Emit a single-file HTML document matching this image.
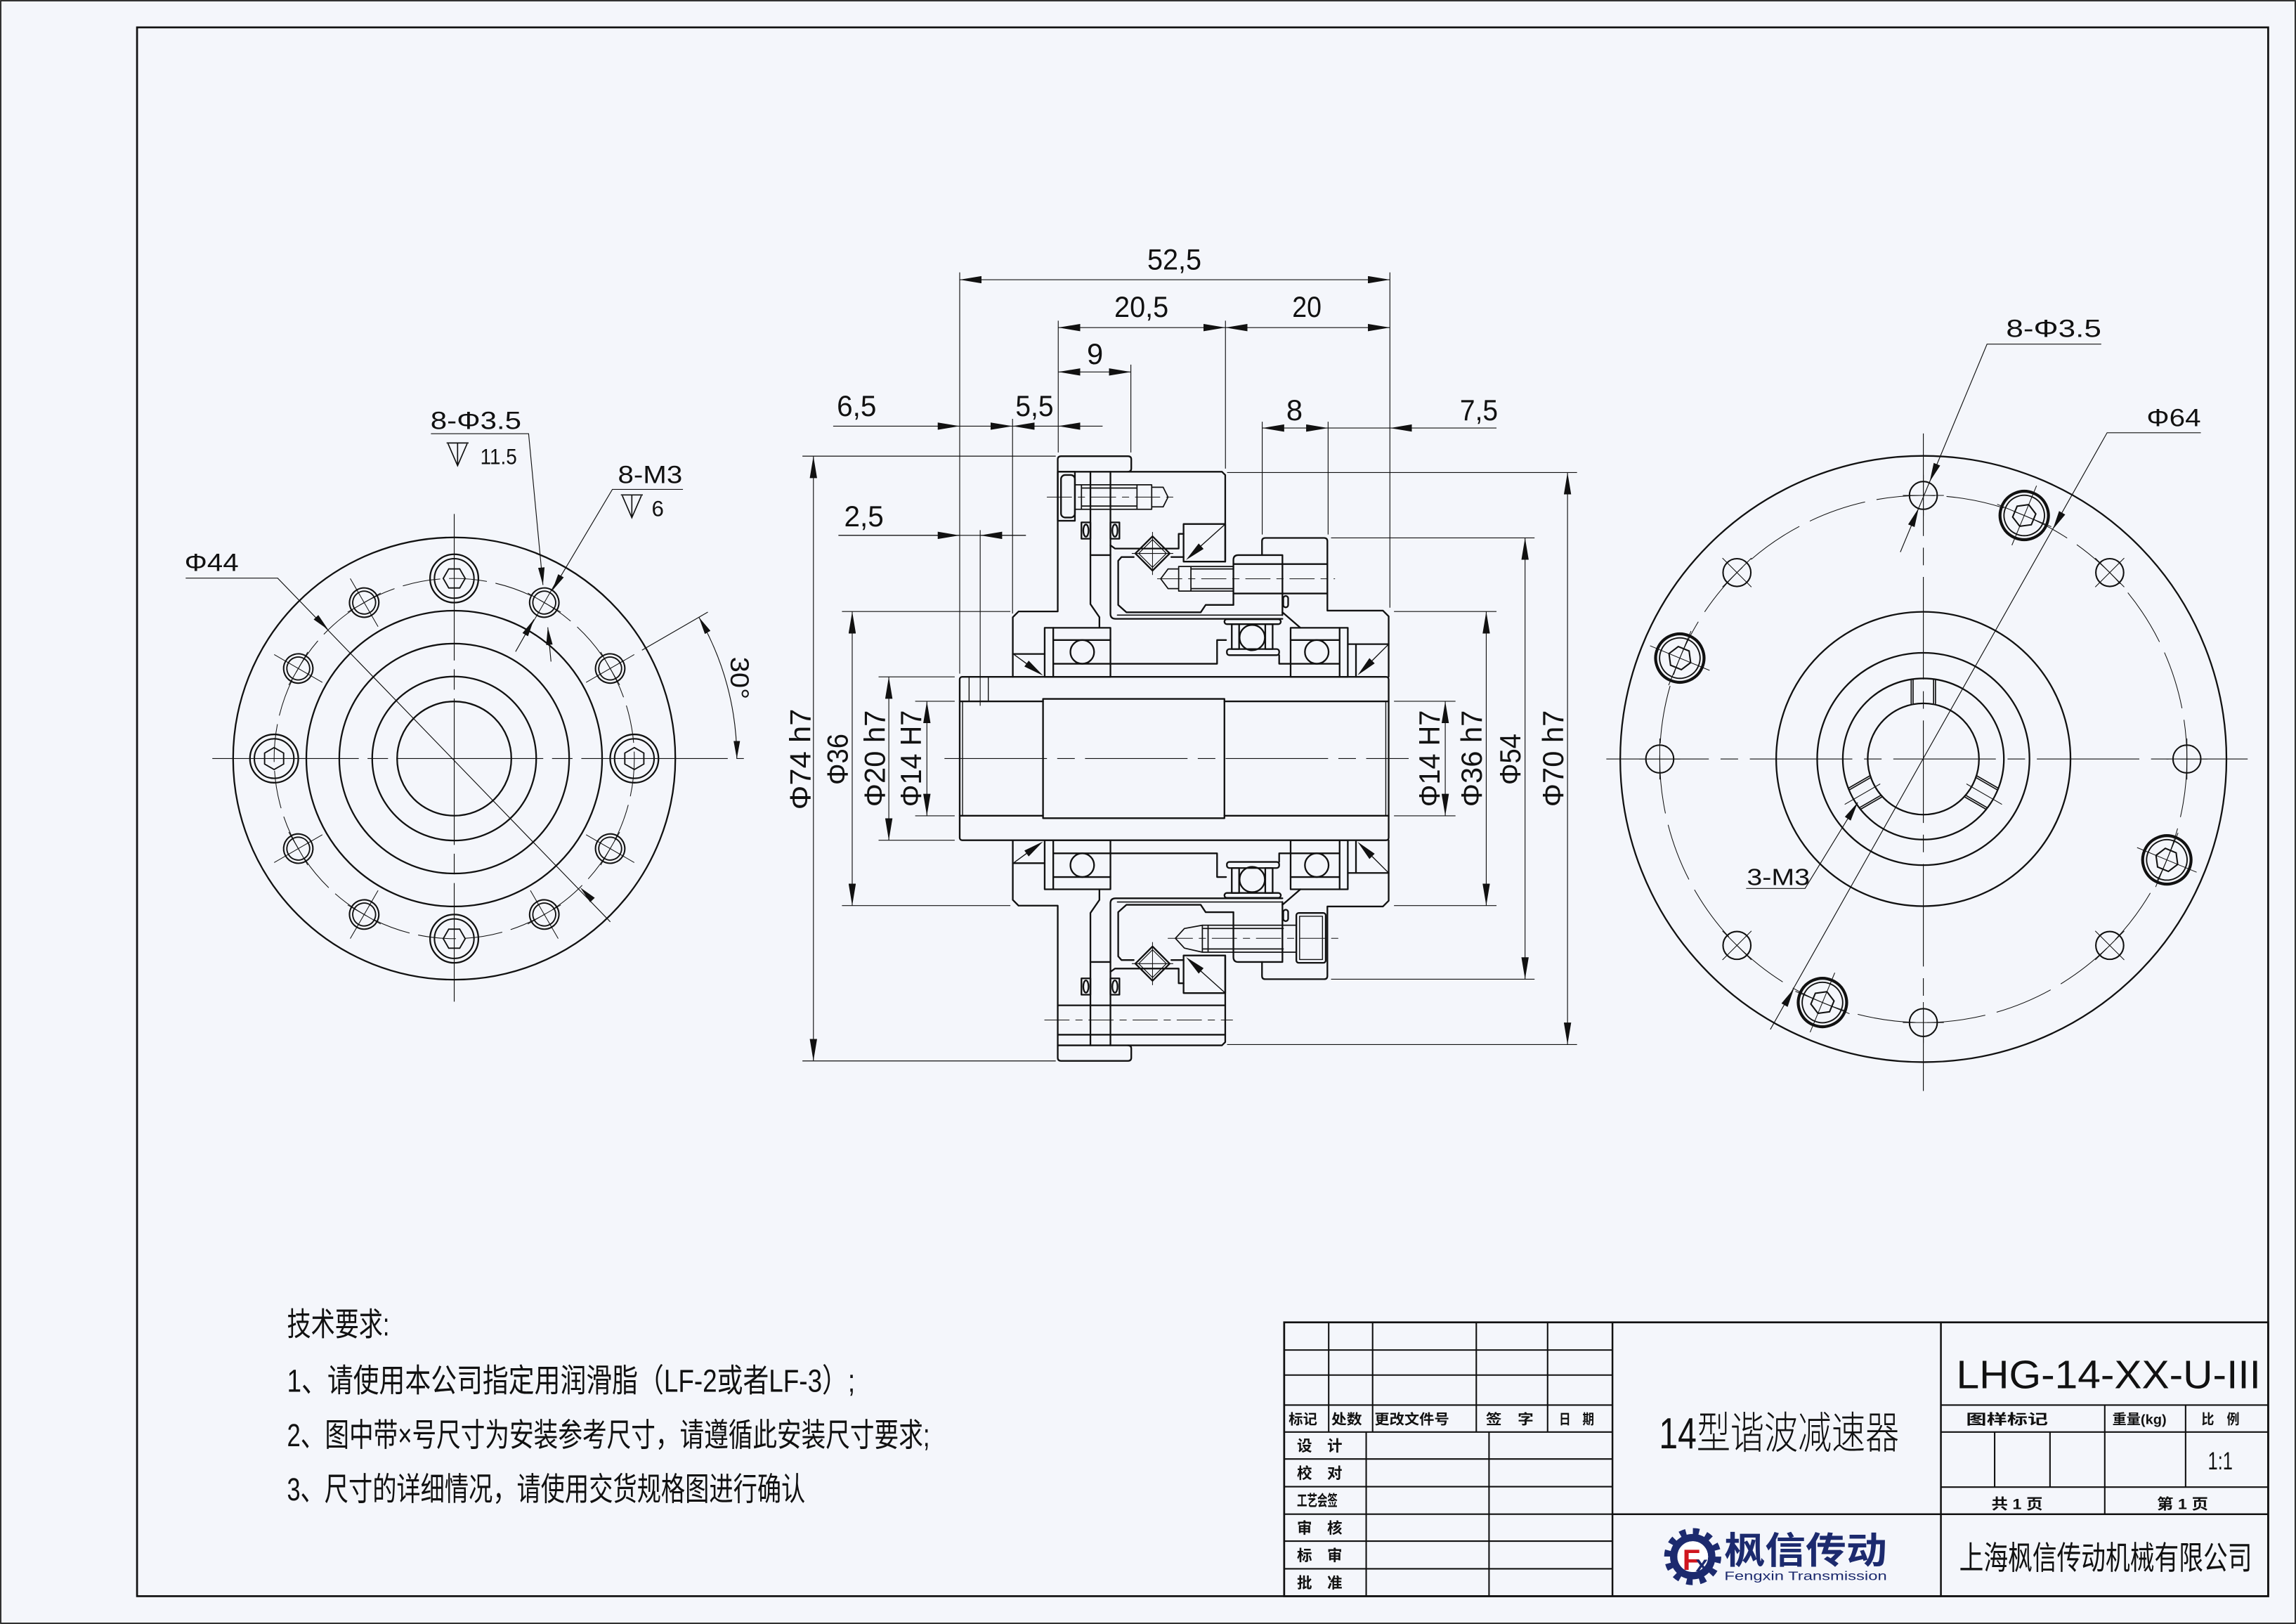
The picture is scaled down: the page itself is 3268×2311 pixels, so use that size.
<!DOCTYPE html>
<html><head><meta charset="utf-8"><style>
html,body{margin:0;padding:0;background:#f4f6fb;}
svg{display:block;}
</style></head><body>
<svg xmlns="http://www.w3.org/2000/svg" xmlns:xlink="http://www.w3.org/1999/xlink" width="3268" height="2311" viewBox="0 0 1568 1109" preserveAspectRatio="none">
<defs>
<marker id="a" viewBox="0 0 15 5" refX="15" refY="2.5" markerWidth="15" markerHeight="5" orient="auto-start-reverse" markerUnits="userSpaceOnUse"><path d="M0,0L15,2.5L0,5z" fill="#111"/></marker>
<marker id="b" viewBox="0 0 12 4.4" refX="12" refY="2.2" markerWidth="12" markerHeight="4.4" orient="auto-start-reverse" markerUnits="userSpaceOnUse"><path d="M0,0L12,2.2L0,4.4z" fill="#111"/></marker>
<g id="lh" fill="none" stroke="#111">
<circle r="10" stroke-width="1"/><circle r="7.8" stroke-width="0.9"/>
<path d="M-19,0H19M0,-13V13" stroke-width="0.5"/>
</g>
<g id="lhex" fill="none" stroke="#111">
<circle r="16.5" stroke-width="1.1"/><circle r="13.5" stroke-width="1"/>
<path d="M0,-7.5L6.5,-3.75L6.5,3.75L0,7.5L-6.5,3.75L-6.5,-3.75Z" stroke-width="0.9"/>
</g>
<g id="rh" fill="none" stroke="#111">
<circle r="9.5" stroke-width="1"/>
<path d="M-14,0H14M0,-14V14" stroke-width="0.5"/>
</g>
<g id="rhex" fill="none" stroke="#111">
<circle r="16.5" stroke-width="2"/><circle r="13.8" stroke-width="0.9"/>
<path d="M-8,0L-4,-6.9L4,-6.9L8,0L4,6.9L-4,6.9Z" stroke-width="1"/>
<path d="M-22,0H22M0,-20V20" stroke-width="0.5"/>
</g>
<g id="slot" fill="none" stroke="#111" stroke-width="0.8">
<path d="M-8.3,-37.5V-54.4M-7,-37.8V-54.6M7,-37.8V-54.6M8.3,-37.5V-54.4"/>
</g>
</defs>

<rect x="0" y="0" width="1568" height="1109" fill="#f4f6fb"/>
<rect x="0.5" y="0.5" width="1567" height="1108" fill="none" stroke="#222" stroke-width="0.9"/>
<rect x="93.6" y="18.7" width="1455.4" height="1071.3" fill="none" stroke="#111" stroke-width="1.3"/>

<!-- ================= LEFT VIEW ================= -->
<g fill="none" stroke="#111" stroke-width="1.1">
<circle cx="310.2" cy="518" r="151"/>
<circle cx="310.2" cy="518" r="101"/>
<circle cx="310.2" cy="518" r="78.5"/>
<circle cx="310.2" cy="518" r="56"/>
<circle cx="310.2" cy="518" r="39"/>
</g>
<circle cx="310.2" cy="518" r="123" fill="none" stroke="#111" stroke-width="0.5" stroke-dasharray="26 6"/>
<g stroke="#111" stroke-width="0.55" fill="none">
<path d="M145,518H508" stroke-dasharray="100 6 14 6"/>
<path d="M310.2,351V684" stroke-dasharray="100 6 14 6"/>
</g>
<use xlink:href="#lh" href="#lh" transform="translate(416.7,456.5) rotate(-30)"/>
<use xlink:href="#lh" href="#lh" transform="translate(371.7,411.5) rotate(-60)"/>
<use xlink:href="#lh" href="#lh" transform="translate(248.7,411.5) rotate(-120)"/>
<use xlink:href="#lh" href="#lh" transform="translate(203.7,456.5) rotate(-150)"/>
<use xlink:href="#lh" href="#lh" transform="translate(203.7,579.5) rotate(-210)"/>
<use xlink:href="#lh" href="#lh" transform="translate(248.7,624.5) rotate(-240)"/>
<use xlink:href="#lh" href="#lh" transform="translate(371.7,624.5) rotate(-300)"/>
<use xlink:href="#lh" href="#lh" transform="translate(416.7,579.5) rotate(-330)"/>
<use xlink:href="#lhex" href="#lhex" transform="translate(433.2,518)"/>
<use xlink:href="#lhex" href="#lhex" transform="translate(310.2,395) rotate(-90)"/>
<use xlink:href="#lhex" href="#lhex" transform="translate(187.2,518) rotate(-180)"/>
<use xlink:href="#lhex" href="#lhex" transform="translate(310.2,641) rotate(-270)"/>

<g fill="none" stroke="#111" stroke-width="0.55">
<path d="M438.4,444L483.4,418"/>
<path d="M503.2,518A193,193 0 0 0 477.3,421.5" marker-start="url(#b)" marker-end="url(#b)"/>
<polyline points="126.8,394.8 189.6,394.8 416.8,629.5"/>
<polyline points="294.3,296.2 361,296.2 370.8,399.5"/>
<path d="M376.3,451.8L374.1,428.4"/>
<polyline points="466.4,334.2 418.2,334.2 377,403.5"/>
<path d="M352.1,445L364.6,423"/>
<path d="M305,302.5H320M312.5,302.5V318M306,303L312.5,318L319,303" stroke-width="0.8"/>
<path d="M424,338H439M431.5,338V353.5M425,338.5L431.5,353.5L438,338.5" stroke-width="0.8"/>
</g>
<g fill="#111">
<polygon points="224.2,430.1 214.2,423.0 217.4,420.0"/>
<polygon points="396.2,606 406.2,613.1 403.0,616.1"/>
<polygon points="370.8,399.5 367.5,387.8 371.9,387.4"/>
<polygon points="374.1,428.4 377.4,440.1 373.0,440.5"/>
<polygon points="377,403.5 381.2,392.1 385.0,394.3"/>
<polygon points="364.6,423 360.6,434.5 356.8,432.3"/>
</g>
<g font-family="Liberation Sans, Arial, sans-serif" fill="#111">
<text x="126" y="390" font-size="17" textLength="37" lengthAdjust="spacingAndGlyphs">Φ44</text>
<text x="294" y="293" font-size="17" textLength="62" lengthAdjust="spacingAndGlyphs">8-Φ3.5</text>
<text x="328" y="317" font-size="15" textLength="25" lengthAdjust="spacingAndGlyphs">11.5</text>
<text x="422" y="330" font-size="17" textLength="44" lengthAdjust="spacingAndGlyphs">8-M3</text>
<text x="445" y="352.5" font-size="15">6</text>
<text transform="translate(499,463) rotate(90)" text-anchor="middle" font-size="18" textLength="29" lengthAdjust="spacingAndGlyphs">30°</text>
</g>

<!-- ================= SECTION VIEW ================= -->
<g transform="translate(655.4 518) scale(5.58)" fill="none" stroke="#111" stroke-width="0.2" stroke-linejoin="round" stroke-linecap="round">
<g id="hs">
<path d="M6.5,-10V-17.3L7.2,-18H12V-36.6Q12,-37 12.4,-37H20.6Q21,-37 21,-36.6V-35.5Q21,-35.1 20.6,-35.1"/>
<path d="M12,-35.1H32.1L32.5,-34.7V-24.1"/>
<path d="M16,-35.1V-18.9L17.1,-17.3V-16"/>
<path d="M18.45,-35.1V-17.7Q18.45,-17.1 19.1,-17.1H39.5"/>
<path d="M19.3,-17.55H39.5" stroke-width="0.14"/>
<path d="M16,-24.9H18.45"/>
<rect x="14.9" y="-28.9" width="1.1" height="2"/>
<ellipse cx="15.45" cy="-27.9" rx="0.32" ry="0.75"/>
<rect x="18.45" y="-28.9" width="1.1" height="2"/>
<ellipse cx="19" cy="-27.9" rx="0.32" ry="0.75"/>
<path d="M18.45,-26.1L19,-25.7H26.8V-27.5H27.4"/>
<rect x="27.4" y="-28.7" width="5.1" height="4.6"/>
<path d="M32.4,-28.6L29.5,-26" stroke-width="0.12"/>
<polygon points="27.7,-24.3 29.25,-26.32 29.85,-25.66" fill="#111" stroke="none"/>
<path d="M21.5,-25.1L23.6,-27.2L25.7,-25.1L23.6,-23Z"/>
<path d="M21.9,-25.1L23.6,-26.8L25.3,-25.1L23.6,-23.4Z" stroke-width="0.1"/>
<path d="M23.6,-27.7V-22.5M21.1,-25.1H26.1" stroke-width="0.09"/>
<path d="M27.4,-24.66H25.9M21.3,-24.66H19.8L19.4,-24.2V-18.8L20.4,-17.9H29.5L30.1,-18.8H33.5"/>
<path d="M33.5,-18.8V-24.3Q33.5,-24.9 34.1,-24.9H39.5V-17.55"/>
<path d="M37,-24.9V-26.6Q37,-27 37.4,-27H44.6Q45,-27 45,-26.6V-18.1H51.8L52.5,-17.4V-10"/>
<rect x="39.6" y="-19.9" width="0.6" height="1.4" rx="0.3"/>
<path d="M39.5,-17.9L41.7,-16"/>
<rect x="10.4" y="-16" width="8.05" height="6"/>
<path d="M11.45,-16V-10M11.45,-14.5H18.45M11.45,-11.6H18.45"/>
<circle cx="15" cy="-13.05" r="1.45"/>
<rect x="40.5" y="-16" width="7" height="6"/>
<path d="M46.5,-16V-10M40.5,-14.5H46.5M40.5,-11.6H46.5"/>
<circle cx="43.7" cy="-13.05" r="1.45"/>
<path d="M6.5,-12.8H10.4"/>
<path d="M6.7,-12.7L8.2,-11.6" stroke-width="0.12"/>
<polygon points="10.2,-10.15 7.915,-11.256 8.445,-11.984" fill="#111" stroke="none"/>
<path d="M47.5,-14H52.5M48.5,-14V-10"/>
<path d="M52.4,-13.9L50.5,-12" stroke-width="0.12"/>
<polygon points="48.7,-10.2 50.15,-12.29 50.79,-11.65" fill="#111" stroke="none"/>
<path d="M18.45,-11.6H31.5V-14.5H32.6"/>
<circle cx="35.8" cy="-14.8" r="1.55"/>
<rect x="32.4" y="-17.05" width="6.9" height="0.6" rx="0.3"/>
<rect x="32.7" y="-13.4" width="6.4" height="0.75" rx="0.3"/>
<rect x="33.3" y="-16.45" width="0.9" height="3.05"/>
<rect x="37.4" y="-16.45" width="0.9" height="3.05"/>
<path d="M39.1,-12.65V-11.6H40.5"/>
</g>
<use xlink:href="#hs" href="#hs" transform="scale(1,-1)"/>
<!-- shaft -->
<rect x="0" y="-10" width="52.5" height="20" rx="0.3"/>
<path d="M0,-7H10.2M32.4,-7H52.5M0,7H10.2M32.4,7H52.5"/>
<rect x="10.2" y="-7.3" width="22.2" height="14.6"/>
<path d="M0.35,-7V7M52.15,-7V7" stroke-width="0.12"/>
<path d="M1.15,-10V-7M3.5,-10V-7" stroke-width="0.12"/>
<!-- top asym -->
<rect x="12" y="-35.1" width="2.1" height="6"/>
<rect x="12.4" y="-34.7" width="1.7" height="5.2" rx="0.5"/>
<path d="M14.1,-33.5H23.5M14.1,-30.5H23.5M14.9,-33.1H21.7M14.9,-30.9H21.7M14.9,-33.5V-30.5M21.7,-33.5V-30.5M23.5,-33.5V-30.5M23.5,-33.2H24.9L25.5,-32L24.9,-30.8H23.5" stroke-width="0.15"/>
<path d="M33.5,-23.5H26.8M33.5,-20.5H26.8M26.8,-23.5V-20.5M26.8,-23.2H25.5L24.6,-22L25.5,-20.8H26.8M33.5,-23.2H28.3M33.5,-20.8H28.3M28.3,-23.5V-20.5" stroke-width="0.15"/>
<path d="M33.5,-23.8H45M33.5,-20.2H45"/>
<!-- bottom asym -->
<path d="M12,30.2H32.5M12,33.8H32.5"/>
<rect x="41.2" y="18.9" width="3.6" height="6.1" rx="0.3"/>
<rect x="41.6" y="19.3" width="2.8" height="5.3" stroke-width="0.12"/>
<path d="M29.7,20.4H41.2M29.7,23.7H41.2M29.7,20.8H39.6M29.7,23.3H39.6M29.7,20.4V23.7M30.4,20.4V23.7M29.7,20.4L27.5,20.8L26.4,22L27.5,23.2L29.7,23.7" stroke-width="0.15"/>
<!-- centerlines -->
<g stroke-width="0.09" stroke-dasharray="3 0.8 0.8 0.8">
<path d="M10.7,-32H26.3"/>
<path d="M24.2,-22H45.9"/>
<path d="M10.4,32H33.4"/>
<path d="M25.5,22H46.5"/>
</g>
</g>
<path d="M645,518H962" stroke="#111" stroke-width="0.55" stroke-dasharray="70 7 12 7"/>

<!-- section dimensions -->
<g fill="none" stroke="#111" stroke-width="0.55">
<line x1="655.4" y1="191" x2="949.2" y2="191" marker-start="url(#a)" marker-end="url(#a)"/>
<line x1="722.7" y1="223.7" x2="836.9" y2="223.7" marker-start="url(#a)" marker-end="url(#a)"/>
<line x1="836.9" y1="223.7" x2="949.2" y2="223.7" marker-start="url(#a)" marker-end="url(#a)"/>
<line x1="722.7" y1="254" x2="772.3" y2="254" marker-start="url(#a)" marker-end="url(#a)"/>
<line x1="569" y1="291" x2="655.4" y2="291" marker-end="url(#a)"/>
<line x1="655.4" y1="291" x2="691.5" y2="291" marker-end="url(#a)"/>
<line x1="753" y1="291" x2="722.7" y2="291" marker-end="url(#a)"/>
<line x1="722.7" y1="291" x2="691.5" y2="291" marker-end="url(#a)"/>
<line x1="884.5" y1="292.3" x2="862" y2="292.3" marker-end="url(#a)"/>
<line x1="884.5" y1="292.3" x2="907" y2="292.3" marker-end="url(#a)"/>
<line x1="907" y1="292.3" x2="949.2" y2="292.3"/>
<line x1="1022" y1="292.3" x2="949.2" y2="292.3" marker-end="url(#a)"/>
<line x1="572.6" y1="365.6" x2="700.6" y2="365.6"/>
<line x1="572.6" y1="365.6" x2="655.4" y2="365.6" marker-end="url(#a)"/>
<line x1="700.6" y1="365.6" x2="669.4" y2="365.6" marker-end="url(#a)"/>
<path d="M655.4,186V460M691.5,286V419M722.7,219V309M772.3,249V309M836.9,219V320M949.2,186V415M862,288V365M907,288V365M669.4,362V482"/>
<line x1="555.5" y1="311.5" x2="555.5" y2="724.5" marker-start="url(#a)" marker-end="url(#a)"/>
<line x1="582" y1="417.6" x2="582" y2="618.4" marker-start="url(#a)" marker-end="url(#a)"/>
<line x1="607" y1="462.2" x2="607" y2="573.8" marker-start="url(#a)" marker-end="url(#a)"/>
<line x1="633" y1="478.9" x2="633" y2="557.1" marker-start="url(#a)" marker-end="url(#a)"/>
<line x1="987" y1="478.9" x2="987" y2="557.1" marker-start="url(#a)" marker-end="url(#a)"/>
<line x1="1015" y1="417.6" x2="1015" y2="618.4" marker-start="url(#a)" marker-end="url(#a)"/>
<line x1="1041.5" y1="367.3" x2="1041.5" y2="668.7" marker-start="url(#a)" marker-end="url(#a)"/>
<line x1="1070.5" y1="322.7" x2="1070.5" y2="713.3" marker-start="url(#a)" marker-end="url(#a)"/>
<path d="M548,311.5H721M548,724.5H721M575,417.6H690M575,618.4H690M600,462.2H652M600,573.8H652M625,478.9H652M625,557.1H652"/>
<path d="M952,478.9H994M952,557.1H994M952,417.6H1022M952,618.4H1022M909,367.3H1048M909,668.7H1048M838,322.7H1077M838,713.3H1077"/>
</g>
<g font-family="Liberation Sans, Arial, sans-serif" fill="#111" font-size="20">
<text x="802" y="184" text-anchor="middle" textLength="37" lengthAdjust="spacingAndGlyphs">52,5</text>
<text x="779.5" y="216.5" text-anchor="middle" textLength="37" lengthAdjust="spacingAndGlyphs">20,5</text>
<text x="892.5" y="216.5" text-anchor="middle" textLength="20" lengthAdjust="spacingAndGlyphs">20</text>
<text x="747.8" y="248.5" text-anchor="middle">9</text>
<text x="585" y="284" text-anchor="middle" textLength="27" lengthAdjust="spacingAndGlyphs">6,5</text>
<text x="706.5" y="284" text-anchor="middle" textLength="26" lengthAdjust="spacingAndGlyphs">5,5</text>
<text x="884" y="287" text-anchor="middle">8</text>
<text x="1010" y="287" text-anchor="middle" textLength="26" lengthAdjust="spacingAndGlyphs">7,5</text>
<text x="590" y="359.5" text-anchor="middle" textLength="27" lengthAdjust="spacingAndGlyphs">2,5</text>
<text transform="translate(553.5,518.5) rotate(-90)" text-anchor="middle" textLength="69" lengthAdjust="spacingAndGlyphs">Φ74 h7</text>
<text transform="translate(579,518.5) rotate(-90)" text-anchor="middle" textLength="35" lengthAdjust="spacingAndGlyphs">Φ36</text>
<text transform="translate(604.2,518) rotate(-90)" text-anchor="middle" textLength="66" lengthAdjust="spacingAndGlyphs">Φ20 h7</text>
<text transform="translate(629,518) rotate(-90)" text-anchor="middle" textLength="66" lengthAdjust="spacingAndGlyphs">Φ14 H7</text>
<text transform="translate(983,518) rotate(-90)" text-anchor="middle" textLength="66" lengthAdjust="spacingAndGlyphs">Φ14 H7</text>
<text transform="translate(1011.8,518) rotate(-90)" text-anchor="middle" textLength="66" lengthAdjust="spacingAndGlyphs">Φ36 h7</text>
<text transform="translate(1038.2,518.5) rotate(-90)" text-anchor="middle" textLength="35" lengthAdjust="spacingAndGlyphs">Φ54</text>
<text transform="translate(1067.6,518) rotate(-90)" text-anchor="middle" textLength="66" lengthAdjust="spacingAndGlyphs">Φ70 h7</text>
</g>

<!-- ================= RIGHT VIEW ================= -->
<g fill="none" stroke="#111" stroke-width="1.1">
<circle cx="1313.5" cy="518.3" r="207"/>
<circle cx="1313.5" cy="518.3" r="100.5"/>
<circle cx="1313.5" cy="518.3" r="72.5"/>
<circle cx="1313.5" cy="518.3" r="55"/>
<circle cx="1313.5" cy="518.3" r="38"/>
</g>
<circle cx="1313.5" cy="518.3" r="180" fill="none" stroke="#111" stroke-width="0.5" stroke-dasharray="40 8"/>
<g stroke="#111" stroke-width="0.55" fill="none">
<path d="M1097,518.3H1535" stroke-dasharray="70 8 12 8"/>
<path d="M1313.5,296V745" stroke-dasharray="70 8 12 8"/>
</g>
<use xlink:href="#slot" href="#slot" transform="translate(1313.5,518.3)"/>
<use xlink:href="#slot" href="#slot" transform="translate(1313.5,518.3) rotate(120)"/>
<use xlink:href="#slot" href="#slot" transform="translate(1313.5,518.3) rotate(240)"/>
<g transform="translate(1313.5,518.3)" stroke="#111" stroke-width="0.5">
<path d="M0,-34V-62" transform="rotate(120)"/>
<path d="M0,-34V-62" transform="rotate(240)"/>
</g>
<use xlink:href="#rh" href="#rh" transform="translate(1493.5,518.3)"/>
<use xlink:href="#rh" href="#rh" transform="translate(1440.8,391.0) rotate(-45)"/>
<use xlink:href="#rh" href="#rh" transform="translate(1313.5,338.3)"/>
<use xlink:href="#rh" href="#rh" transform="translate(1186.2,391.0) rotate(-135)"/>
<use xlink:href="#rh" href="#rh" transform="translate(1133.5,518.3)"/>
<use xlink:href="#rh" href="#rh" transform="translate(1186.2,645.6) rotate(-225)"/>
<use xlink:href="#rh" href="#rh" transform="translate(1313.5,698.3)"/>
<use xlink:href="#rh" href="#rh" transform="translate(1440.8,645.6) rotate(-315)"/>
<use xlink:href="#rhex" href="#rhex" transform="translate(1382.4,352.0) rotate(-67.5)"/>
<use xlink:href="#rhex" href="#rhex" transform="translate(1147.2,449.4) rotate(-157.5)"/>
<use xlink:href="#rhex" href="#rhex" transform="translate(1244.6,684.6) rotate(-247.5)"/>
<use xlink:href="#rhex" href="#rhex" transform="translate(1479.8,587.2) rotate(-337.5)"/>
<g fill="none" stroke="#111" stroke-width="0.55">
<polyline points="1435,235 1357,235 1297.8,377"/>
<polyline points="1503,295.5 1439,295.5 1209,703"/>
<polyline points="1192.5,606.7 1232.7,606.7 1268.7,548"/>
</g>
<g fill="#111">
<polygon points="1317.8,329 1320.6,316.1 1325.0,317.9"/>
<polygon points="1310.3,347 1307.5,359.9 1303.1,358.1"/>
<polygon points="1401.9,361.5 1406.2,349.0 1410.4,351.4"/>
<polygon points="1225.1,675.1 1220.8,687.6 1216.6,685.2"/>
<polygon points="1268.7,548 1263.9,560.4 1259.9,557.8"/>
</g>
<g font-family="Liberation Sans, Arial, sans-serif" fill="#111">
<text x="1370" y="230" font-size="17" textLength="65" lengthAdjust="spacingAndGlyphs">8-Φ3.5</text>
<text x="1466" y="291" font-size="17" textLength="37" lengthAdjust="spacingAndGlyphs">Φ64</text>
<text x="1193" y="604.5" font-size="16" textLength="43" lengthAdjust="spacingAndGlyphs">3-M3</text>
</g>

<!-- ================= TECH REQUIREMENTS ================= -->
<g font-family="Liberation Sans, 'Noto Sans CJK SC', 'WenQuanYi Zen Hei', sans-serif" fill="#111" font-size="22">
<text x="196" y="912" textLength="70" lengthAdjust="spacingAndGlyphs">技术要求:</text>
<text x="196" y="950.5" textLength="388" lengthAdjust="spacingAndGlyphs">1、请使用本公司指定用润滑脂（LF-2或者LF-3）;</text>
<text x="196" y="987.5" textLength="439" lengthAdjust="spacingAndGlyphs">2、图中带×号尺寸为安装参考尺寸，请遵循此安装尺寸要求;</text>
<text x="196" y="1024.5" textLength="354" lengthAdjust="spacingAndGlyphs">3、尺寸的详细情况，请使用交货规格图进行确认</text>
</g>

<!-- ================= TITLE BLOCK ================= -->
<g fill="none" stroke="#111" stroke-width="1">
<rect x="877" y="903" width="672" height="187" stroke-width="1.3"/>
<path d="M907.4,903V977.9M937.4,903V977.9M1008.2,903V977.9M1056.9,903V977.9"/>
<path d="M877,921.9H1101.2M877,939H1101.2M877,959.5H1101.2M877,977.9H1101.2"/>
<path d="M933,977.9V1090M1016.9,977.9V1090"/>
<path d="M877,996.3H1101.2M877,1015.2H1101.2M877,1034H1101.2M877,1052.4H1101.2M877,1071.3H1101.2"/>
<path d="M1101.2,903V1090M1325.5,903V1090" stroke-width="1.2"/>
<path d="M1101.2,1034H1549" stroke-width="1.2"/>
<path d="M1325.5,959.5H1549M1325.5,977.9H1549M1325.5,1015.5H1549"/>
<path d="M1437.4,959.5V1034M1492.6,959.5V1015.5M1362.2,977.9V1015.5M1400,977.9V1015.5"/>
</g>
<g font-family="Liberation Sans, 'Noto Sans CJK SC', 'WenQuanYi Zen Hei', sans-serif" fill="#111" font-weight="bold" font-size="9.5">
<text x="880" y="972.5" textLength="19.6" lengthAdjust="spacingAndGlyphs">标记</text>
<text x="909.2" y="972.5" textLength="21" lengthAdjust="spacingAndGlyphs">处数</text>
<text x="938.7" y="972.5" textLength="51" lengthAdjust="spacingAndGlyphs">更改文件号</text>
<text x="1014.7" y="972.5" textLength="32.6" lengthAdjust="spacingAndGlyphs">签　字</text>
<text x="1064.7" y="972.5" textLength="24" lengthAdjust="spacingAndGlyphs">日　期</text>
<text x="1342.7" y="972.5" textLength="56" lengthAdjust="spacingAndGlyphs">图样标记</text>
<text x="1442.6" y="972.5" textLength="37" lengthAdjust="spacingAndGlyphs">重量(kg)</text>
<text x="1503.4" y="972.5" textLength="26" lengthAdjust="spacingAndGlyphs">比　例</text>
<text x="885.7" y="991" font-size="10.5" textLength="31" lengthAdjust="spacingAndGlyphs">设　计</text>
<text x="885.7" y="1009.6" font-size="10.5" textLength="31" lengthAdjust="spacingAndGlyphs">校　对</text>
<text x="885.7" y="1028.5" font-size="10.5" textLength="27.8" lengthAdjust="spacingAndGlyphs">工艺会签</text>
<text x="885.7" y="1047.1" font-size="10.5" textLength="31" lengthAdjust="spacingAndGlyphs">审　核</text>
<text x="885.7" y="1065.7" font-size="10.5" textLength="31" lengthAdjust="spacingAndGlyphs">标　审</text>
<text x="885.7" y="1084.5" font-size="10.5" textLength="31" lengthAdjust="spacingAndGlyphs">批　准</text>
<text x="1360" y="1030.5" font-size="10" textLength="35" lengthAdjust="spacingAndGlyphs">共 1 页</text>
<text x="1473" y="1030.5" font-size="10" textLength="35" lengthAdjust="spacingAndGlyphs">第 1 页</text>
</g>
<g font-family="Liberation Sans, 'Noto Sans CJK SC', 'WenQuanYi Zen Hei', sans-serif" fill="#111">
<text x="1133" y="989" font-size="30" font-weight="300" textLength="164" lengthAdjust="spacingAndGlyphs">14型谐波减速器</text>
<text x="1336" y="948" font-size="27" textLength="208" lengthAdjust="spacingAndGlyphs">LHG-14-XX-U-III</text>
<text x="1516.3" y="1003.5" font-size="17" text-anchor="middle" textLength="17" lengthAdjust="spacingAndGlyphs">1:1</text>
<text x="1338" y="1071.5" font-size="22" textLength="200" lengthAdjust="spacingAndGlyphs">上海枫信传动机械有限公司</text>
</g>
<!-- logo -->
<g>
<circle cx="1156" cy="1063" r="17" fill="none" stroke="#1c2a6e" stroke-width="5" stroke-dasharray="4.2 4.7"/>
<circle cx="1156" cy="1063" r="13" fill="none" stroke="#1c2a6e" stroke-width="5"/>
<circle cx="1156" cy="1063" r="10.5" fill="#ffffff"/>
<text x="1149" y="1072" font-family="Liberation Sans, sans-serif" font-weight="bold" font-size="20" fill="#d0161e">F</text>
<text x="1158" y="1073" font-family="Liberation Sans, sans-serif" font-weight="bold" font-size="15" fill="#1c2a6e">x</text>
<text x="1177.6" y="1067.5" font-family="Liberation Sans, 'Noto Sans CJK SC', sans-serif" font-weight="bold" font-size="25" fill="#1c2a6e" textLength="111" lengthAdjust="spacingAndGlyphs">枫信传动</text>
<text x="1177.6" y="1079" font-family="Liberation Sans, sans-serif" font-size="8.5" fill="#1c2a6e" textLength="111" lengthAdjust="spacingAndGlyphs">Fengxin Transmission</text>
</g>
</svg>
</body></html>
